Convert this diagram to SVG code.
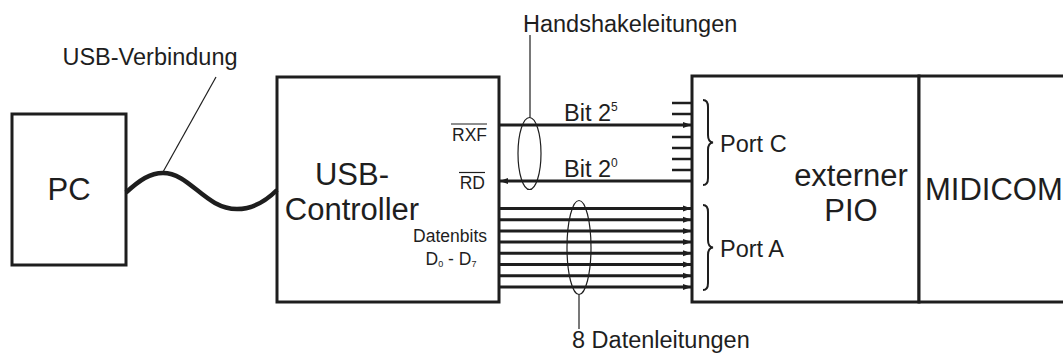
<svg xmlns="http://www.w3.org/2000/svg" width="1063" height="355" viewBox="0 0 1063 355">
<style>
.box{fill:#fff;stroke:#1e1e1e;stroke-width:3}
.t{font-family:"Liberation Sans",Arial,sans-serif;fill:#1e1e1e}
.big{font-size:31px}
.lbl{font-size:23.5px}
.sm{font-size:17.5px}
.w{stroke:#1e1e1e;stroke-width:3;fill:none}
.thin{stroke:#1e1e1e;stroke-width:1.2;fill:none}
.tick{stroke:#1e1e1e;stroke-width:2.5}
.brace{stroke:#1e1e1e;stroke-width:2;fill:none}
</style>
<defs>
<marker id="ar" markerUnits="userSpaceOnUse" markerWidth="9" markerHeight="7" refX="8" refY="3.5" orient="auto">
<path d="M0,0.5 L8.5,3.5 L0,6.5 z" fill="#1e1e1e"/>
</marker>
</defs>
<rect width="1063" height="355" fill="#fff"/>

<g id="pc">
<rect class="box" x="12" y="114" width="114" height="151"/>
<text class="t big" x="69" y="200" text-anchor="middle">PC</text>
</g>

<g id="usb-controller">
<rect class="box" x="277" y="77" width="222" height="225"/>
<text class="t big" x="352" y="185" text-anchor="middle">USB-</text>
<text class="t big" x="352" y="220" text-anchor="middle">Controller</text>
<text class="t sm" x="487" y="140.5" text-anchor="end">RXF</text>
<line class="thin" x1="451" y1="124" x2="487" y2="124"/>
<text class="t sm" x="485" y="189" text-anchor="end">RD</text>
<line class="thin" x1="459" y1="172.5" x2="485" y2="172.5"/>
<text class="t sm" x="487" y="241.5" text-anchor="end">Datenbits</text>
<text class="t sm" x="451" y="265" text-anchor="middle">D<tspan font-size="9" dy="2">0</tspan><tspan dy="-2"> - D</tspan><tspan font-size="9" dy="2">7</tspan></text>
</g>

<g id="pio">
<rect class="box" x="692" y="76" width="227" height="226"/>
<text class="t big" x="851" y="186" text-anchor="middle">externer</text>
<text class="t big" x="851" y="221" text-anchor="middle">PIO</text>
<path class="brace" d="M703,100 Q708,100 708,107 L708,135 Q708,142 713,142.5 Q708,143 708,150 L708,178 Q708,185 703,185"/>
<text class="t lbl" x="720" y="152">Port C</text>
<path class="brace" d="M703,205 Q708,205 708,212 L708,240 Q708,247 713,247.5 Q708,248 708,255 L708,283 Q708,290 703,290"/>
<text class="t lbl" x="720" y="257">Port A</text>
</g>

<g id="midicom">
<rect class="box" x="919" y="76" width="160" height="226"/>
<text class="t big" x="925" y="200">MIDICOM</text>
</g>

<g id="connectors">
<path d="M126,192.5 C140,180 150,173 163,173 C190,173 205,209 237,209 C255,209 268,199 277,190" stroke="#1e1e1e" stroke-width="4.5" fill="none"/>
<line class="thin" x1="163" y1="172" x2="216" y2="77"/>
<text class="t lbl" x="150" y="65" text-anchor="middle">USB-Verbindung</text>

<line class="w" x1="499" y1="125" x2="691" y2="125" marker-end="url(#ar)"/>
<line class="w" x1="692" y1="181" x2="500" y2="181" marker-end="url(#ar)"/>
<g class="tick">
<line x1="672" y1="103" x2="692" y2="103"/>
<line x1="672" y1="114" x2="692" y2="114"/>
<line x1="672" y1="137" x2="692" y2="137"/>
<line x1="672" y1="148" x2="692" y2="148"/>
<line x1="672" y1="159" x2="692" y2="159"/>
<line x1="672" y1="170" x2="692" y2="170"/>
</g>
<text class="t lbl" x="564" y="121">Bit 2<tspan font-size="12" dy="-10">5</tspan></text>
<text class="t lbl" x="564" y="177">Bit 2<tspan font-size="12" dy="-10">0</tspan></text>

<line class="w" x1="499" y1="208.5" x2="691" y2="208.5" marker-end="url(#ar)"/>
<line class="w" x1="499" y1="219.7" x2="691" y2="219.7" marker-end="url(#ar)"/>
<line class="w" x1="499" y1="230.9" x2="691" y2="230.9" marker-end="url(#ar)"/>
<line class="w" x1="499" y1="242.1" x2="691" y2="242.1" marker-end="url(#ar)"/>
<line class="w" x1="499" y1="253.3" x2="691" y2="253.3" marker-end="url(#ar)"/>
<line class="w" x1="499" y1="264.5" x2="691" y2="264.5" marker-end="url(#ar)"/>
<line class="w" x1="499" y1="275.7" x2="691" y2="275.7" marker-end="url(#ar)"/>
<line class="w" x1="499" y1="287" x2="691" y2="287" marker-end="url(#ar)"/>

<ellipse class="thin" cx="529.5" cy="153.5" rx="11.5" ry="36"/>
<line class="thin" x1="530" y1="35" x2="530" y2="117.5"/>
<text class="t lbl" x="523" y="31.5">Handshakeleitungen</text>

<ellipse class="thin" cx="579" cy="247.5" rx="12" ry="47"/>
<line class="thin" x1="579" y1="294.5" x2="579" y2="329"/>
<text class="t lbl" x="572" y="348">8 Datenleitungen</text>
</g>
</svg>
